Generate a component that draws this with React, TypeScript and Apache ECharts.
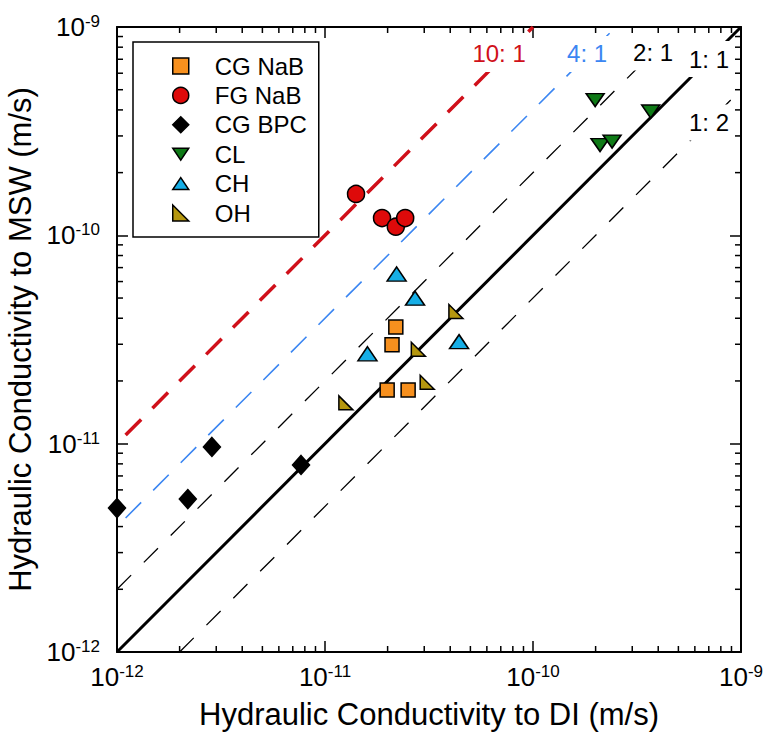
import React, { useEffect, useRef } from "react";
import * as echarts from "echarts";

const FONT = "'Liberation Sans', Arial, Helvetica, sans-serif";

// Hydraulic conductivity pairs: [K to DI, K to MSW] in m/s
const seriesNames = ["CG NaB", "FG NaB", "CG BPC", "CL", "CH", "OH"];
const cgNaB = [[2.19e-11, 3.63e-11], [2.1e-11, 2.98e-11], [1.99e-11, 1.81e-11], [2.51e-11, 1.81e-11]];
const fgNaB = [[1.41e-11, 1.58e-10], [1.88e-11, 1.21e-10], [2.19e-11, 1.1e-10], [2.43e-11, 1.21e-10]];
const cgBPC = [[1.0e-12, 4.91e-12], [2.19e-12, 5.42e-12], [2.86e-12, 9.64e-12], [7.67e-12, 7.9e-12]];
const cl = [[1.99e-10, 4.46e-10], [3.68e-10, 3.93e-10], [2.1e-10, 2.71e-10], [2.4e-10, 2.82e-10]];
const ch = [[2.21e-11, 6.52e-11], [2.71e-11, 4.99e-11], [1.6e-11, 2.7e-11], [4.41e-11, 3.09e-11]];
const oh = [[4.26e-11, 4.31e-11], [2.81e-11, 2.84e-11], [3.1e-11, 1.97e-11], [1.26e-11, 1.57e-11]];
const seriesData = [cgNaB, fgNaB, cgBPC, cl, ch, oh];

// Reference lines K_MSW = ratio x K_DI
const refRatios = [10, 4, 2, 1, 0.5];
const refLabels = ["10: 1", "4: 1", "2: 1", "1: 1", "1: 2"];
const refStartDI = [1.1e-12, 1.1e-12, 1e-12, 1e-12, 2e-12];
const refEndDI = [1e-10, 2.5e-10, 5e-10, 1e-9, 1e-9];
const refLabelAt = [[6.87e-11, 7.42e-10], [1.82e-10, 7.42e-10], [3.78e-10, 7.54e-10], [7.02e-10, 7.02e-10], [7.02e-10, 3.48e-10]];

// Axis range and minor tick multipliers
const AXIS_MIN = 1e-12;
const AXIS_MAX = 1e-9;
const minorDecades = [-12, -11, -10];
const minorMultipliers = [2, 3, 4, 5, 6, 7, 8, 9];

const markerSymbols = [
  "rect",
  "circle",
  "diamond",
  "path://M0,0L20,0L10,15Z",
  "path://M10,0L20,15L0,15Z",
  "path://M0,0L0,14L14,14Z",
];
const markerSizes: any[] = [14, 17, [17, 19], [18, 13], [19, 14], [14, 14]];
const markerColors = ["#F7901E", "#DE0A0A", "#000000", "#0E7A16", "#16AEE6", "#B5970F"];

const refStyles: any[] = [
  { color: "#D0101A", width: 3.5, type: [22, 16] },
  { color: "#3B86F2", width: 1.6, type: [22, 17] },
  { color: "#000000", width: 1.3, type: [20, 18] },
  { color: "#000000", width: 3, type: "solid" },
  { color: "#000000", width: 1.3, type: [20, 18] },
];
const refLabelColors = ["#D0101A", "#3B86F2", "#000000", "#000000", "#000000"];

const minorValues: number[] = [];
minorDecades.forEach((e) => minorMultipliers.forEach((m) => minorValues.push(m * Math.pow(10, e))));

const tickLabel = (v: number) => "{b|10}{s|" + Math.round(Math.log10(v)) + "}";
const tickRich = {
  b: { fontSize: 26, fontFamily: FONT, color: "#000", lineHeight: 28 },
  s: { fontSize: 17, fontFamily: FONT, color: "#000", lineHeight: 17, verticalAlign: "top" },
};

const axisBase = {
  type: "log",
  logBase: 10,
  min: AXIS_MIN,
  max: AXIS_MAX,
  axisLine: { show: true, onZero: false, lineStyle: { color: "#000", width: 2 } },
  axisTick: { show: true, inside: true, length: 11, lineStyle: { color: "#000", width: 1.5 } },
  minorTick: { show: false },
  splitLine: { show: false },
};

function buildOption(): any {
  const lineSeries = refRatios.map((r, i) => ({
    type: "line",
    name: "ref" + refLabels[i],
    data: [
      [refStartDI[i], r * refStartDI[i]],
      [refEndDI[i], r * refEndDI[i]],
    ],
    showSymbol: false,
    symbol: "none",
    silent: true,
    z: 2,
    lineStyle: refStyles[i],
  }));

  const scatterSeries = seriesNames.map((name, i) => ({
    type: "scatter",
    name,
    data: seriesData[i],
    symbol: markerSymbols[i],
    symbolSize: markerSizes[i],
    symbolKeepAspect: false,
    z: 4,
    itemStyle: { color: markerColors[i], borderColor: "#000", borderWidth: 1.5, opacity: 1 },
  }));

  // Ratio labels sit on white boxes that break their lines
  const labelSeries = {
    type: "scatter",
    name: "ratioLabels",
    symbol: "rect",
    symbolSize: (_v: any, p: any) => [p.name.length * 11 + 4, 36],
    silent: true,
    z: 3,
    itemStyle: { color: "#ffffff", borderWidth: 0, opacity: 1 },
    data: refLabels.map((t, i) => ({
      name: t,
      value: refLabelAt[i],
      label: { color: refLabelColors[i] },
    })),
    label: {
      show: true,
      position: "inside",
      formatter: "{b}",
      fontSize: 24,
      fontFamily: FONT,
      lineHeight: 24,
    },
  };

  const tickSeriesX = {
    type: "custom",
    name: "minorX",
    silent: true,
    z: 5,
    data: minorValues.map((v) => [v, AXIS_MIN]),
    encode: { x: 0, y: 1 },
    renderItem: (_p: any, api: any) => {
      const v = api.value(0);
      const b = api.coord([v, AXIS_MIN]);
      const t = api.coord([v, AXIS_MAX]);
      const st = { stroke: "#000", lineWidth: 1.5 };
      return {
        type: "group",
        children: [
          { type: "line", shape: { x1: b[0], y1: b[1], x2: b[0], y2: b[1] - 6 }, style: st },
          { type: "line", shape: { x1: t[0], y1: t[1], x2: t[0], y2: t[1] + 6 }, style: st },
        ],
      };
    },
  };

  const tickSeriesY = {
    type: "custom",
    name: "minorY",
    silent: true,
    z: 5,
    data: minorValues.map((v) => [AXIS_MIN, v]),
    encode: { x: 0, y: 1 },
    renderItem: (_p: any, api: any) => {
      const v = api.value(1);
      const l = api.coord([AXIS_MIN, v]);
      const r = api.coord([AXIS_MAX, v]);
      const st = { stroke: "#000", lineWidth: 1.5 };
      return {
        type: "group",
        children: [
          { type: "line", shape: { x1: l[0], y1: l[1], x2: l[0] + 6, y2: l[1] }, style: st },
          { type: "line", shape: { x1: r[0], y1: r[1], x2: r[0] - 6, y2: r[1] }, style: st },
        ],
      };
    },
  };

  return {
    animation: false,
    backgroundColor: "#ffffff",
    textStyle: { fontFamily: FONT },
    grid: { left: 117, top: 27, width: 624, height: 625, containLabel: false, outerBoundsMode: "none" },
    legend: {
      data: seriesNames,
      orient: "vertical",
      left: 133,
      top: 42,
      itemWidth: 16,
      itemHeight: 16,
      itemGap: 5.4,
      padding: [12, 12, 12, 39],
      borderColor: "#000",
      borderWidth: 1.5,
      borderRadius: 0,
      backgroundColor: "#ffffff",
      selectedMode: false,
      symbolKeepAspect: true,
      itemStyle: { borderColor: "#000", borderWidth: 1.5 },
      textStyle: { fontSize: 24, fontFamily: FONT, color: "#000", lineHeight: 24, padding: [0, 0, 0, 21] },
      z: 10,
    },
    xAxis: [
      {
        ...axisBase,
        position: "bottom",
        name: "Hydraulic Conductivity to DI (m/s)",
        nameLocation: "middle",
        nameGap: 47,
        nameTextStyle: { fontSize: 31, fontFamily: FONT, color: "#000" },
        axisLabel: { show: true, margin: 11, formatter: tickLabel, rich: tickRich },
      },
      { ...axisBase, position: "top", axisLabel: { show: false } },
    ],
    yAxis: [
      {
        ...axisBase,
        position: "left",
        name: "Hydraulic Conductivity to MSW (m/s)",
        nameLocation: "middle",
        nameGap: 80,
        nameTextStyle: { fontSize: 31, fontFamily: FONT, color: "#000" },
        axisLabel: { show: true, margin: 17, formatter: tickLabel, rich: tickRich },
      },
      { ...axisBase, position: "right", axisLabel: { show: false } },
    ],
    series: [...lineSeries, labelSeries, ...scatterSeries, tickSeriesX, tickSeriesY],
  };
}

export default function App() {
  const ref = useRef<HTMLDivElement>(null);
  useEffect(() => {
    if (!ref.current) return;
    const chart = echarts.init(ref.current, undefined, { renderer: "svg" });
    chart.setOption(buildOption());
    return () => chart.dispose();
  }, []);
  return (
    <div
      ref={ref}
      style={{ position: "fixed", left: 0, top: 0, width: 766, height: 738, background: "#fff" }}
    />
  );
}
